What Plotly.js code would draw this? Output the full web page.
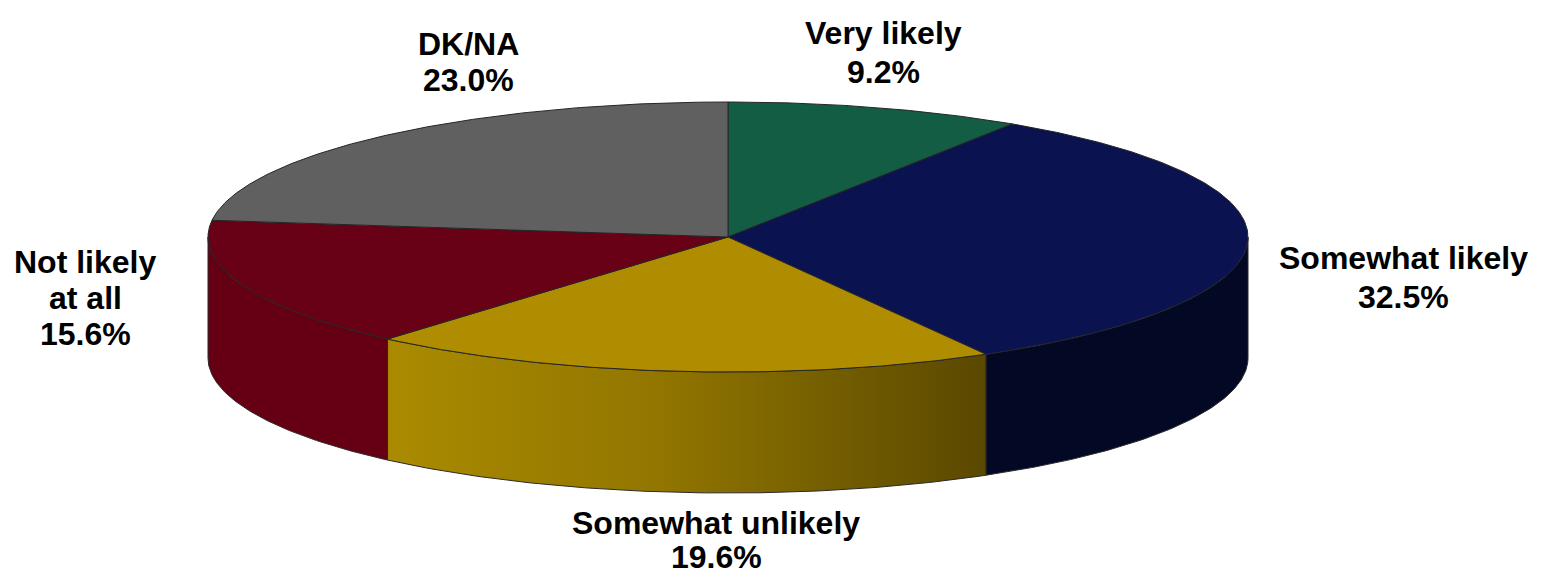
<!DOCTYPE html>
<html><head><meta charset="utf-8">
<script src="https://cdn.plot.ly/plotly-3.0.1.min.js"></script>
<style>html,body{margin:0;padding:0;background:#fff}#chart{width:1543px;height:574px}</style>
</head><body><div id="chart"></div>
<script>
// ---- data ----
const categories = ['Very likely', 'Somewhat likely', 'Somewhat unlikely', 'Not likely at all', 'DK/NA'];
const values = [9.2, 32.5, 19.6, 15.6, 23.0];
const labelLines = [['Very likely'], ['Somewhat likely'], ['Somewhat unlikely'], ['Not likely', 'at all'], ['DK/NA']];

// ---- styles / layout config ----
const topColors = ['#135D45', '#0A124F', '#B08D00', '#680016', '#606060'];
const wallColors = ['#0C3E2D', '#030925', null, '#650014', '#3E3E3E'];
const goldWallScale = [[0, '#AA8B00'], [0.45, '#927600'], [1, '#5A4800']];
const W = 1543, H = 574;
const PX = 520;                 // pixels per unit
const CXp = 728, CYp = 237;     // pie centre in pixels
const RX = 1, RY = 135 / PX, DEPTH = 121 / PX;
const labelPos = [ // first line centre (px), line pitch (px)
  {x: 883, y: 33, pitch: 39},
  {x: 1403, y: 258, pitch: 39},
  {x: 716, y: 523, pitch: 34},
  {x: 85, y: 262, pitch: 36},
  {x: 468, y: 44, pitch: 36}
];

const total = values.reduce((a, b) => a + b, 0);
const rad = d => d * Math.PI / 180;
function pt(deg, dy) { return [RX * Math.sin(rad(deg)), RY * Math.cos(rad(deg)) - (dy || 0)]; }
function arc(a1, a2, dy) {
  const pts = [];
  const n = Math.max(2, Math.ceil(Math.abs(a2 - a1) / 0.5));
  for (let i = 0; i <= n; i++) pts.push(pt(a1 + (a2 - a1) * i / n, dy));
  return pts;
}

const starts = [], ends = [];
let cum = 0;
values.forEach(v => { starts.push(cum / total * 360); cum += v; ends.push(cum / total * 360); });

const traces = [];
// side walls (front half: 90..270 deg)
values.forEach((v, i) => {
  const lo = Math.max(starts[i], 90), hi = Math.min(ends[i], 270);
  if (lo >= hi) return;
  const poly = arc(lo, hi, 0).concat(arc(hi, lo, DEPTH));
  poly.push(poly[0]);
  const tr = {
    type: 'scatter', mode: 'lines', name: categories[i] + ' side',
    x: poly.map(p => p[0]), y: poly.map(p => p[1]),
    fill: 'toself', line: {color: '#2a2a2a', width: 1}, hoverinfo: 'skip', showlegend: false
  };
  if (wallColors[i]) tr.fillcolor = wallColors[i];
  else tr.fillgradient = {type: 'horizontal', colorscale: goldWallScale};
  traces.push(tr);
});
// top faces
values.forEach((v, i) => {
  const poly = [[0, 0]].concat(arc(starts[i], ends[i], 0), [[0, 0]]);
  traces.push({
    type: 'scatter', mode: 'lines', name: categories[i],
    x: poly.map(p => p[0]), y: poly.map(p => p[1]),
    fill: 'toself', fillcolor: topColors[i], line: {color: '#262626', width: 1},
    hoverinfo: 'name', showlegend: false
  });
});

// labels
const annotations = [];
values.forEach((v, i) => {
  const lines = labelLines[i].concat([v.toFixed(1) + '%']);
  const lp = labelPos[i];
  lines.forEach((t, k) => {
    annotations.push({
      xref: 'paper', yref: 'paper', x: lp.x / W, y: 1 - (lp.y + k * lp.pitch) / H,
      xanchor: 'center', yanchor: 'middle', showarrow: false,
      text: '<b>' + t + '</b>',
      font: {family: 'Liberation Sans, Arial, sans-serif', size: 32, color: '#000'}
    });
  });
});

const layout = {
  width: W, height: H, margin: {l: 0, r: 0, t: 0, b: 0},
  paper_bgcolor: '#fff', plot_bgcolor: '#fff', showlegend: false,
  xaxis: {range: [-CXp / PX, (W - CXp) / PX], visible: false, fixedrange: true},
  yaxis: {range: [-(H - CYp) / PX, CYp / PX], visible: false, fixedrange: true},
  annotations: annotations
};
Plotly.newPlot('chart', traces, layout, {displayModeBar: false, staticPlot: true});
</script>
</body></html>
